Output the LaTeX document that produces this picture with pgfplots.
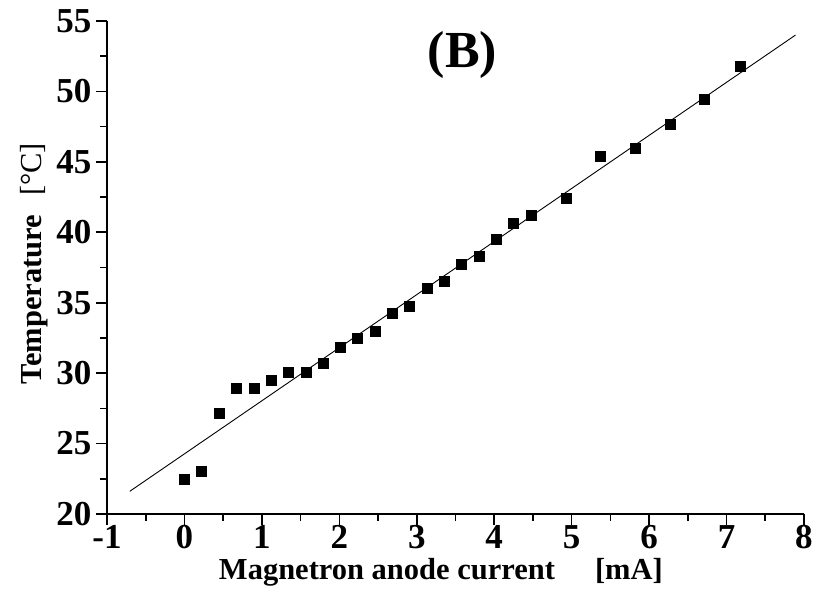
\documentclass[border=0pt]{standalone}
\usepackage{fontspec}
\setmainfont{Liberation Serif}
\usepackage{pgfplots}
\pgfplotsset{compat=1.18}

\begin{document}
\begin{tikzpicture}
\begin{axis}[
  scale only axis,
  width=697pt, height=493pt,
  xmin=-1, xmax=8, ymin=20, ymax=55,
  axis lines=left,
  axis line style={-, line width=1.8pt},
  xtick={-1,0,...,8}, ytick={20,25,...,55},
  minor x tick num=1, minor y tick num=1,
  tick align=outside,
  major tick length=11pt, minor tick length=6.5pt,
  every tick/.style={black, line width=1.6pt},
  /pgf/number format/assume math mode=true,
  tick label style={font=\fontsize{35}{40}\selectfont\bfseries},
  xticklabel style={yshift=1pt, inner sep=1pt},
  yticklabel style={xshift=-1pt},
  xlabel={Magnetron anode current\hspace{40pt}[mA]},
  ylabel={Temperature\hspace{19pt}{\mdseries[°C]}},
  label style={font=\fontsize{30.5}{34}\selectfont\bfseries},
  xlabel style={at={(axis description cs:0.479,0)}, anchor=north, yshift=-43pt, inner sep=1pt},
  ylabel style={at={(axis description cs:0,0.508)}, anchor=south, yshift=55pt},
  clip=false,
]
% linear fit
\addplot[black, line width=0.9pt, no marks] coordinates {(-0.706,21.61) (7.89,54.0)};
% measured temperature
\addplot[only marks, mark=square*, mark size=5pt, black] coordinates {
  (0.00,22.50) (0.22,23.07) (0.45,27.15) (0.67,28.92) (0.90,28.92)
  (1.12,29.51) (1.34,30.10) (1.57,30.10) (1.79,30.72) (2.01,31.87)
  (2.23,32.47) (2.46,33.01) (2.68,34.22) (2.90,34.78) (3.13,36.00)
  (3.36,36.56) (3.58,37.74) (3.81,38.33) (4.03,39.50) (4.25,40.65)
  (4.48,41.24) (4.93,42.45) (5.37,45.39) (5.82,45.95) (6.27,47.70)
  (6.71,49.48) (7.17,51.80)
};
\node[anchor=base, font=\fontsize{52}{60}\selectfont\bfseries] at (axis cs:3.59,51.73) {(B)};
\end{axis}
\useasboundingbox (current axis.south west) ++(-107pt,-77pt) rectangle ++(827pt,591pt);
\end{tikzpicture}
\end{document}
